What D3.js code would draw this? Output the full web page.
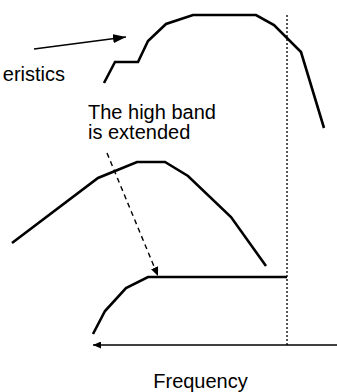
<!DOCTYPE html>
<html><head><meta charset="utf-8">
<script src="https://cdn.jsdelivr.net/npm/d3@7"></script>
<style>html,body{margin:0;padding:0;background:#fff;overflow:hidden}svg{display:block}</style>
</head><body>
<svg id="c" width="337" height="392"></svg>
<script>
// Frequency (x) and level (y, up = higher) readings for each characteristic
const topFreq    = [104, 115, 138, 148, 166, 193, 256, 274, 301, 324];
const topLevel   = [309, 330, 330, 351, 368, 377, 377, 367, 340, 264];
const midFreq    = [12, 98, 137, 165, 188, 231, 266];
const midLevel   = [149, 214, 230, 230, 216, 175, 126];
const lowFreq    = [93, 105, 126, 148, 287];
const lowLevel   = [58, 81, 104, 115, 115];
const cutoffFreq = 287;
const cutoffLevels = [377, 47];
const axisLevel  = 47;
const axisFreq   = [337, 93];
const pointerFreq  = [34, 126];
const pointerLevel = [343, 355];
const extendFreq   = [107, 158];
const extendLevel  = [239, 116];
const labels = { curve: "eristics", note: ["The high band", "is extended"], axis: "Frequency" };

const W = 337, H = 392;
const svg = d3.select("#c");
const x = d3.scaleLinear().domain([0, 337]).range([0, W]);
const y = d3.scaleLinear().domain([0, 392]).range([H, 0]);
const line = d3.line().x(d => x(d[0])).y(d => y(d[1]));
const zip = (a, b) => a.map((v, i) => [v, b[i]]);

const defs = svg.append("defs");
function marker(id, len, hw) {
  defs.append("marker").attr("id", id).attr("markerUnits", "userSpaceOnUse")
    .attr("viewBox", `0 ${-hw} ${len} ${2*hw}`).attr("refX", len).attr("refY", 0)
    .attr("markerWidth", len).attr("markerHeight", 2*hw).attr("orient", "auto")
    .append("path").attr("d", `M0,${-hw}L${len},0L0,${hw}Z`).attr("fill", "#000");
}
marker("mBig", 13, 4.5);
marker("mMid", 9, 3.8);
marker("mAxis", 8, 3.5);

// cutoff dotted line
svg.append("path").attr("d", line([[cutoffFreq, cutoffLevels[0]], [cutoffFreq, cutoffLevels[1]]]))
  .attr("stroke", "#555").attr("stroke-width", 2).attr("stroke-dasharray", "2,2").attr("fill", "none");

// frequency axis
svg.append("path").attr("d", line(zip(axisFreq, [axisLevel, axisLevel])))
  .attr("stroke", "#000").attr("stroke-width", 1.3).attr("fill", "none").attr("marker-end", "url(#mAxis)");

// curves
[[topFreq, topLevel], [midFreq, midLevel], [lowFreq, lowLevel]].forEach(([f, l]) => {
  svg.append("path").attr("d", line(zip(f, l)))
    .attr("stroke", "#000").attr("stroke-width", 2.6).attr("fill", "none")
    .attr("stroke-linejoin", "miter");
});

// pointer arrow
svg.append("path").attr("d", line(zip(pointerFreq, pointerLevel)))
  .attr("stroke", "#000").attr("stroke-width", 1.4).attr("fill", "none").attr("marker-end", "url(#mBig)");

// dashed arrow
svg.append("path").attr("d", line(zip(extendFreq, extendLevel)))
  .attr("stroke", "#000").attr("stroke-width", 1.4).attr("stroke-dasharray", "5,4").attr("fill", "none")
  .attr("marker-end", "url(#mMid)");

const font = "'Liberation Sans', Arial, sans-serif";
svg.append("text").attr("x", 65).attr("y", 81).attr("text-anchor", "end")
  .attr("font-family", font).attr("font-size", 20).attr("fill", "#000").text(labels.curve);
labels.note.forEach((t, i) => {
  svg.append("text").attr("x", 88).attr("y", 118.5 + i * 20)
    .attr("font-family", font).attr("font-size", 20).attr("fill", "#000").text(t);
});
svg.append("text").attr("x", 200.5).attr("y", 388).attr("text-anchor", "middle")
  .attr("font-family", font).attr("font-size", 20).attr("fill", "#000").text(labels.axis);
</script>
</body></html>
